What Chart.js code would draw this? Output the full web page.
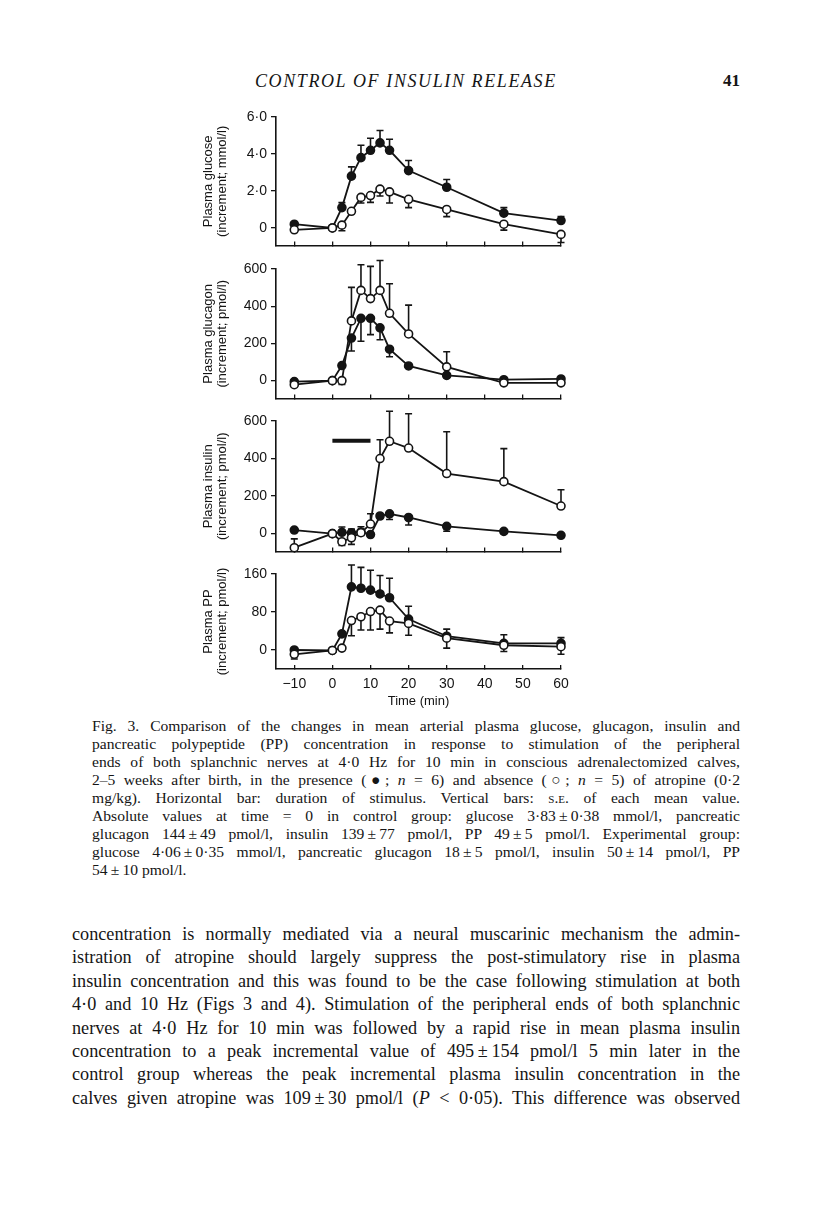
<!DOCTYPE html>
<html lang="en">
<head>
<meta charset="UTF-8">
<title>Control of insulin release - Fig. 3</title>
<script src="https://cdn.jsdelivr.net/npm/chart.js@4"></script>
<style>
  body { margin: 0; background: #fff; color: #151515; }
  .page { position: relative; width: 816px; height: 1212px; overflow: hidden; }
  .page canvas { position: absolute; }
  .runhead { position: absolute; top: 71px; left: 255px; font: italic 18px "Liberation Serif", serif; letter-spacing: 1.6px; }
  .folio { position: absolute; top: 71px; left: 723px; font: bold 17px "Liberation Serif", serif; }
  .caption { position: absolute; left: 92px; top: 717px; width: 648px; font: 15.6px/18px "Liberation Serif", serif; }
  .body { position: absolute; left: 72px; top: 923px; width: 668px; font: 18.2px/23.4px "Liberation Serif", serif; }
  .caption div, .body div { text-align: justify; text-align-last: justify; }
  .caption div.last { text-align-last: left; }
  .sc { font-variant: small-caps; }
</style>
</head>
<body>
<div class="page" id="page">
  <div class="runhead">CONTROL OF INSULIN RELEASE</div>
  <div class="folio">41</div>

  <div class="caption">
    <div>Fig. 3. Comparison of the changes in mean arterial plasma glucose, glucagon, insulin and</div>
    <div>pancreatic polypeptide (PP) concentration in response to stimulation of the peripheral</div>
    <div>ends of both splanchnic nerves at 4·0 Hz for 10 min in conscious adrenalectomized calves,</div>
    <div>2–5 weeks after birth, in the presence (●; <i>n</i> = 6) and absence (○; <i>n</i> = 5) of atropine (0·2</div>
    <div>mg/kg). Horizontal bar: duration of stimulus. Vertical bars: <span class="sc">s.e.</span> of each mean value.</div>
    <div>Absolute values at time = 0 in control group: glucose 3·83&#8201;±&#8201;0·38 mmol/l, pancreatic</div>
    <div>glucagon 144&#8201;±&#8201;49 pmol/l, insulin 139&#8201;±&#8201;77 pmol/l, PP 49&#8201;±&#8201;5 pmol/l. Experimental group:</div>
    <div>glucose 4·06&#8201;±&#8201;0·35 mmol/l, pancreatic glucagon 18&#8201;±&#8201;5 pmol/l, insulin 50&#8201;±&#8201;14 pmol/l, PP</div>
    <div class="last">54&#8201;±&#8201;10 pmol/l.</div>
  </div>

  <div class="body">
    <div>concentration is normally mediated via a neural muscarinic mechanism the admin-</div>
    <div>istration of atropine should largely suppress the post-stimulatory rise in plasma</div>
    <div>insulin concentration and this was found to be the case following stimulation at both</div>
    <div>4·0 and 10 Hz (Figs 3 and 4). Stimulation of the peripheral ends of both splanchnic</div>
    <div>nerves at 4·0 Hz for 10 min was followed by a rapid rise in mean plasma insulin</div>
    <div>concentration to a peak incremental value of 495&#8201;±&#8201;154 pmol/l 5 min later in the</div>
    <div>control group whereas the peak incremental plasma insulin concentration in the</div>
    <div>calves given atropine was 109&#8201;±&#8201;30 pmol/l (<i>P</i> &lt; 0·05). This difference was observed</div>
  </div>
</div>

<script>
  // sampling times (min), shared by every panel
  const times = [-10, 0, 2.5, 5, 7.5, 10, 12.5, 15, 20, 30, 45, 60];
  const timeTicks = [-10, 0, 10, 20, 30, 40, 50, 60];

  // SE arrays: positive = bar drawn upward, negative = bar drawn downward
  const glucoseAtropine   = [0.2, 0, 1.1, 2.8, 3.8, 4.2, 4.6, 4.2, 3.1, 2.2, 0.8, 0.4];
  const glucoseAtropineSe = [0.1, 0, 0.27, 0.5, 0.67, 0.65, 0.67, 0.6, 0.55, 0.42, 0.3, 0.22];
  const glucoseControl    = [-0.1, 0, 0.15, 0.9, 1.65, 1.75, 2.1, 1.95, 1.55, 1.0, 0.2, -0.35];
  const glucoseControlSe  = [0, 0, -0.3, -0.1, -0.3, -0.37, -0.37, -0.6, -0.45, -0.39, -0.32, -0.44];
  const glucoseTicks = [0, 2, 4, 6];

  const glucagonAtropine   = [-5, 0, 81, 229, 335, 335, 284, 169, 79, 28, 5, 9];
  const glucagonAtropineSe = [0, 0, 0, -70, -123, -88, -64, -41, -12, 0, 0, 0];
  const glucagonControl    = [-22, 0, 0, 321, 485, 441, 485, 362, 251, 74, -12, -12];
  const glucagonControlSe  = [-10, 0, -20, 180, 138, 173, 161, 159, 155, 81, -8, -10];
  const glucagonTicks = [0, 200, 400, 600];

  const insulinAtropine   = [19, 0, 7, 4, 9, -5, 94, 105, 86, 39, 12, -9];
  const insulinAtropineSe = [0, 0, 28, 20, 28, 0, 0, -30, -40, -26, -8, 0];
  const insulinControl    = [-75, 0, -43, -22, 5, 51, 400, 492, 456, 320, 277, 147];
  const insulinControlSe  = [47, 0, -20, -35, -15, 55, 100, 160, 183, 223, 176, 87];
  const insulinTicks = [0, 200, 400, 600];
  const stimulusTimes = [0, 10];
  const stimulusLevel = 495;

  const ppAtropine   = [0, -1, 34, 133, 130, 126, 118, 110, 65, 29, 14, 14];
  const ppAtropineSe = [0, 0, 0, 46, 44, 42, 39, 41, 27, 15, 18, 12];
  const ppControl    = [-9, -1, 4, 62, 70, 81, 84, 61, 56, 25, 10, 7];
  const ppControlSe  = [-10, 0, 0, -32, -28, -39, -40, -25, -25, -21, -13, -16];
  const ppTicks = [0, 80, 160];

  const INK = '#141414';
  const CANVAS_LEFT = 196, CANVAS_W = 384, Y_AXIS_W = 80, PAD_T = 22, PAD_R = 19;

  // vertical s.e. bars
  const errorBars = {
    id: 'errorBars',
    beforeDatasetsDraw(chart) {
      const { ctx, scales: { x, y } } = chart;
      ctx.save();
      ctx.strokeStyle = INK;
      ctx.lineWidth = 1.6;
      chart.data.datasets.forEach(ds => {
        if (!ds.se) return;
        ds.data.forEach((p, i) => {
          const s = ds.se[i];
          if (!s) return;
          const px = x.getPixelForValue(p.x);
          const y0 = y.getPixelForValue(p.y);
          const y1 = y.getPixelForValue(p.y + s);
          ctx.beginPath();
          ctx.moveTo(px, y0);
          ctx.lineTo(px, y1);
          ctx.moveTo(px - 3.5, y1);
          ctx.lineTo(px + 3.5, y1);
          ctx.stroke();
        });
      });
      ctx.restore();
    }
  };

  const pts = vals => times.map((t, i) => ({ x: t, y: vals[i] }));

  function series(vals, se, filled) {
    return {
      data: pts(vals),
      se: se,
      borderColor: INK,
      borderWidth: 1.8,
      pointRadius: 4,
      pointBorderWidth: 1.6,
      pointBorderColor: INK,
      pointBackgroundColor: filled ? INK : '#fff',
      tension: 0,
      clip: false,
      order: filled ? 1 : 0
    };
  }

  function makePanel(p) {
    const xH = p.showTime ? 40 : 0;
    const padB = p.showTime ? 4 : 10;
    const chartH = p.bottom - p.top;
    const canvas = document.createElement('canvas');
    canvas.width = CANVAS_W;
    canvas.height = PAD_T + chartH + xH + padB;
    canvas.style.left = CANVAS_LEFT + 'px';
    canvas.style.top = (p.top - PAD_T) + 'px';
    document.getElementById('page').appendChild(canvas);

    const datasets = [series(p.control, p.controlSe, false), series(p.atropine, p.atropineSe, true)];
    if (p.bar) {
      datasets.push({
        data: stimulusTimes.map(t => ({ x: t, y: stimulusLevel })),
        borderColor: INK, borderWidth: 4, pointRadius: 0, clip: false, order: 2
      });
    }

    new Chart(canvas, {
      type: 'line',
      data: { datasets },
      options: {
        responsive: false,
        animation: false,
        devicePixelRatio: 1,
        layout: { padding: { top: PAD_T, right: PAD_R, bottom: padB, left: 0 } },
        plugins: { legend: { display: false }, tooltip: { enabled: false } },
        scales: {
          x: {
            type: 'linear',
            min: -14.8,
            max: 60,
            afterBuildTicks: s => { s.ticks = timeTicks.map(v => ({ value: v })); },
            afterFit: s => { s.height = xH; },
            border: { display: true, color: INK, width: 1.6 },
            grid: { drawOnChartArea: false, drawTicks: true, tickLength: -4, color: INK, lineWidth: 1.3 },
            ticks: {
              display: p.showTime,
              padding: 11,
              color: INK,
              font: { family: 'Liberation Sans', size: 14 },
              callback: v => v < 0 ? '\u2212' + Math.abs(v) : String(v)
            },
            title: {
              display: p.showTime,
              text: 'Time (min)',
              color: INK,
              padding: { top: 0, bottom: 0 },
              font: { family: 'Liberation Sans', size: 13, lineHeight: 1.1 }
            }
          },
          y: {
            min: p.min,
            max: p.max,
            afterBuildTicks: s => { s.ticks = p.ticks.map(v => ({ value: v })); },
            afterFit: s => { s.width = Y_AXIS_W; },
            border: { display: true, color: INK, width: 1.6 },
            grid: { drawOnChartArea: false, drawTicks: true, tickLength: 5, color: INK, lineWidth: 1.3 },
            ticks: {
              padding: 4,
              color: INK,
              font: { family: 'Liberation Sans', size: 14 },
              callback: p.fmt
            },
            title: {
              display: true,
              text: p.title,
              color: INK,
              padding: { top: 5, bottom: 0 },
              font: { family: 'Liberation Sans', size: 13, lineHeight: 1.08 }
            }
          }
        }
      },
      plugins: [errorBars]
    });
  }

  const dotFmt = v => v === 0 ? '0' : v.toFixed(1).replace('.', '\u00b7');
  const intFmt = v => String(v);

  makePanel({
    top: 117, bottom: 248, min: -0.956, max: 6, ticks: glucoseTicks, fmt: dotFmt,
    title: ['Plasma glucose', '(increment; mmol/l)'],
    atropine: glucoseAtropine, atropineSe: glucoseAtropineSe,
    control: glucoseControl, controlSe: glucoseControlSe
  });
  makePanel({
    top: 269, bottom: 401, min: -96.6, max: 600, ticks: glucagonTicks, fmt: intFmt,
    title: ['Plasma glucagon', '(increment; pmol/l)'],
    atropine: glucagonAtropine, atropineSe: glucagonAtropineSe,
    control: glucagonControl, controlSe: glucagonControlSe
  });
  makePanel({
    top: 421, bottom: 554, min: -95.7, max: 600, ticks: insulinTicks, fmt: intFmt,
    title: ['Plasma insulin', '(increment; pmol/l)'], bar: true,
    atropine: insulinAtropine, atropineSe: insulinAtropineSe,
    control: insulinControl, controlSe: insulinControlSe
  });
  makePanel({
    top: 574, bottom: 669, min: -40, max: 160, ticks: ppTicks, fmt: intFmt,
    title: ['Plasma PP', '(increment; pmol/l)'], showTime: true,
    atropine: ppAtropine, atropineSe: ppAtropineSe,
    control: ppControl, controlSe: ppControlSe
  });
</script>
</body>
</html>
